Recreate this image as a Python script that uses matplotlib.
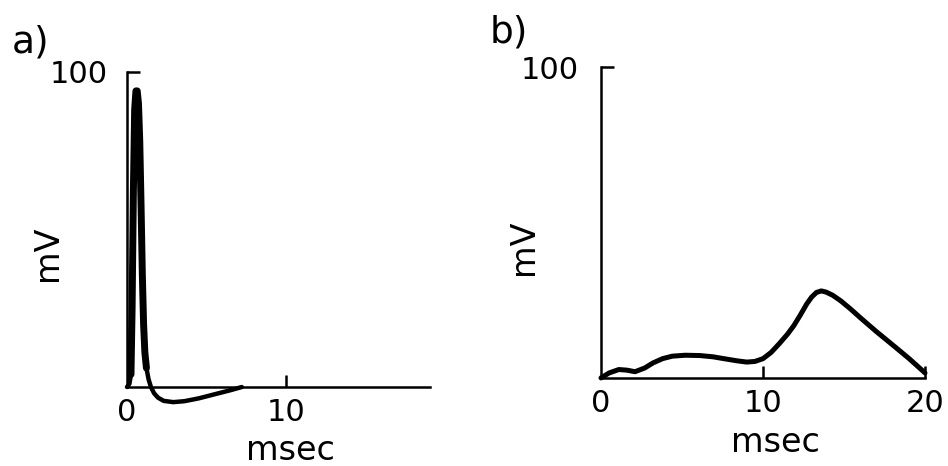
import matplotlib.pyplot as plt

# a) action potential: fast spike followed by a small undershoot
t_a = [0, 0.15, 0.25, 0.32, 0.4, 0.48, 0.56, 0.64, 0.72, 0.8, 0.88, 0.96, 1.04,
       1.12, 1.22, 1.35, 1.5, 1.7, 1.95, 2.3, 2.9, 3.6, 4.5, 5.5, 6.5, 7.2]
v_a = [0, 1, 4, 25, 62, 88, 94, 94, 90, 78, 58, 36, 20,
       11, 6, 2.5, 0, -2, -3.4, -4.4, -4.8, -4.5, -3.6, -2.3, -1, 0]
# faint second sweep on the rising phase
t_a_rise = [0.1, 0.18, 0.26, 0.36, 0.48]
v_a_rise = [1, 5, 35, 72, 92]

# b) slow response
t_b = [0, 0.5, 1.1, 1.6, 2.1, 2.7, 3.2, 3.8, 4.4, 5.2, 6.1, 6.9, 7.7, 8.4, 9.0,
       9.5, 10.0, 10.5, 11.0, 11.5, 11.9, 12.3, 12.7, 13.0, 13.3, 13.6, 13.9,
       14.3, 14.8, 15.4, 16.0, 17.0, 18.1, 19.0, 19.9, 20.0]
v_b = [0, 1.6, 2.7, 2.5, 2.0, 3.2, 4.8, 6.2, 7.0, 7.3, 7.2, 6.8, 6.1, 5.5, 5.1,
       5.3, 6.2, 8.2, 11.0, 14.0, 16.8, 20.2, 23.8, 26.0, 27.5, 28.0, 27.6,
       26.6, 24.8, 22.2, 19.4, 14.9, 10.2, 6.3, 2.1, 1.6]

W, H = 948, 466
fig = plt.figure(figsize=(W / 100, H / 100), dpi=100)
plt.rcParams['font.family'] = 'DejaVu Sans'


def px(x, y):
    return x / W, 1 - y / H


def setup(ax, xmax, xticks, xlabels, ypad):
    for s in ('top', 'right'):
        ax.spines[s].set_visible(False)
    for s in ('left', 'bottom'):
        ax.spines[s].set_linewidth(1.8)
    ax.set_xlim(0, xmax)
    ax.set_ylim(0, 100)
    ax.set_xticks(xticks)
    ax.set_xticklabels(xlabels)
    ax.set_yticks([100])
    ax.set_yticklabels(['100'])
    ax.tick_params(axis='both', direction='in', length=9, width=1.8,
                   labelsize=22)
    ax.tick_params(axis='x', pad=8)
    ax.tick_params(axis='y', pad=ypad)
    # no tick mark at the origin, only the "0" label
    ax.xaxis.get_major_ticks()[0].tick1line.set_visible(False)


# panel a
ax1 = fig.add_axes([127 / W, 0.1695, 303 / W, 0.676])
setup(ax1, 19, [0, 10], ['0', '10'], 14)
ax1.plot(t_a, v_a, color='black', lw=3.2, solid_capstyle='round',
         solid_joinstyle='round', clip_on=False)
# the spike itself is traced heavier than the undershoot
ax1.plot(t_a[2:15], v_a[2:15], color='black', lw=5, solid_capstyle='round',
         solid_joinstyle='round', clip_on=False)
ax1.plot(t_a_rise, v_a_rise, color='black', lw=1.3, clip_on=False)

# panel b
ax2 = fig.add_axes([601 / W, 0.189, 324 / W, 0.667])
setup(ax2, 20, [0, 10, 20], ['0', '10', '20'], 16)
ax2.plot(t_b, v_b, color='black', lw=3.6, solid_capstyle='round',
         solid_joinstyle='round', clip_on=False)

# axis titles and panel letters
fig.text(*px(48, 253), 'mV', fontsize=24, rotation=90, ha='center', va='center')
fig.text(*px(290, 450), 'msec', fontsize=24, ha='center', va='center')
fig.text(*px(523, 247), 'mV', fontsize=24, rotation=90, ha='center', va='center')
fig.text(*px(775, 442), 'msec', fontsize=24, ha='center', va='center')
fig.text(*px(12, 42), 'a)', fontsize=27, ha='left', va='center')
fig.text(*px(490, 32), 'b)', fontsize=27, ha='left', va='center')

fig.savefig('out.png', dpi=100)
